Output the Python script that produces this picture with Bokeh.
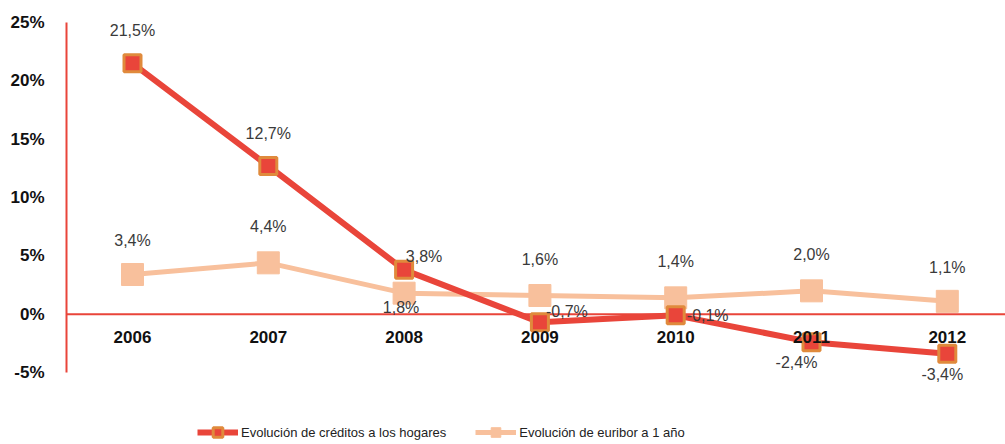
from bokeh.plotting import figure
from bokeh.models import (ColumnDataSource, Range1d, FixedTicker, Span, Legend, LegendItem)
from bokeh.core.properties import value
from bokeh.embed import file_html
from bokeh.resources import INLINE

# ---- data ----
years = ["2006", "2007", "2008", "2009", "2010", "2011", "2012"]
creditos = [21.5, 12.7, 3.8, -0.7, -0.1, -2.4, -3.4]
euribor = [3.4, 4.4, 1.8, 1.6, 1.4, 2.0, 1.1]
y_ticks = [-5, 0, 5, 10, 15, 20, 25]
y_tick_labels = ["-5%", "0%", "5%", "10%", "15%", "20%", "25%"]
serie_names = ["Evolución de créditos a los hogares", "Evolución de euribor a 1 año"]

# label placement (pixel offsets, style only)
cred_dx = [0, 0, 20, 27, 32, -15, -5]
cred_dy = [-33, -33, -13, -11, 0, 20, 21]
eur_dx = [0, 0, -3, 0, 0, 0, 0]
eur_dy = [-34, -36, 14, -36, -36, -36, -34]

FONT = "'Liberation Sans', Arial, sans-serif"
RED = "#e9453a"
ORANGE = "#e08a3c"
PEACH = "#f8c09c"

def fmt(v):
    return ("%.1f%%" % v).replace(".", ",")

xs = list(range(len(years)))
src_c = ColumnDataSource(dict(x=xs, y=creditos, lab=[fmt(v) for v in creditos],
                              dx=cred_dx, dy=cred_dy))
src_e = ColumnDataSource(dict(x=xs, y=euribor, lab=[fmt(v) for v in euribor],
                              dx=eur_dx, dy=eur_dy))
src_cat = ColumnDataSource(dict(x=xs, y=[0] * len(years), lab=years))

W = 1005
H = 444
LEFT = 66
TOP = 22
PX_PER_UNIT = 350 / 30.0
PX_PER_CAT = 135.8
y_lo = 25 - (H - TOP) / PX_PER_UNIT
x_lo = -LEFT / PX_PER_CAT
x_hi = x_lo + (W - LEFT) / PX_PER_CAT

p = figure(width=W, height=H, output_backend="svg", toolbar_location=None,
           x_range=Range1d(x_lo, x_hi), y_range=Range1d(y_lo, 25),
           min_border_left=LEFT, min_border_right=0, min_border_top=TOP,
           min_border_bottom=0)
p.outline_line_color = None
p.xgrid.visible = False
p.ygrid.visible = False
p.xaxis.visible = False
p.background_fill_color = "white"
p.border_fill_color = "white"

ya = p.yaxis[0]
ya.ticker = FixedTicker(ticks=y_ticks)
ya.bounds = (y_ticks[0], y_ticks[-1])
ya.major_label_overrides = {t: l for t, l in zip(y_ticks, y_tick_labels)}
ya.axis_line_color = RED
ya.axis_line_width = 2
ya.major_tick_line_color = None
ya.minor_tick_line_color = None
ya.major_tick_out = 0
ya.major_tick_in = 0
ya.major_label_standoff = 22
ya.major_label_text_font = FONT
ya.major_label_text_font_style = "bold"
ya.major_label_text_font_size = "17px"
ya.major_label_text_color = "#111111"

zero = Span(location=0, dimension="width", line_color=RED, line_width=2, level="underlay")
p.add_layout(zero)

# euribor series
le = p.line("x", "y", source=src_e, line_color=PEACH, line_width=5)
se = p.scatter("x", "y", source=src_e, marker="square", size=22,
               fill_color=PEACH, line_color=PEACH, line_width=1)
# credits series
lc = p.line("x", "y", source=src_c, line_color=RED, line_width=6)
sc = p.scatter("x", "y", source=src_c, marker="square", size=17,
               fill_color=RED, line_color=ORANGE, line_width=3)

# data labels
for src in (src_e, src_c):
    p.text("x", "y", text="lab", source=src, x_offset="dx", y_offset="dy",
           text_font=value(FONT), text_font_size="16px", text_color="#3a3a3a",
           text_align="center", text_baseline="middle")

# category labels
p.text("x", "y", text="lab", source=src_cat, y_offset=23,
       text_font=value(FONT), text_font_size="17px", text_font_style="bold",
       text_color="#111111", text_align="center", text_baseline="middle")

legend = Legend(items=[LegendItem(label=serie_names[0], renderers=[lc, sc]),
                       LegendItem(label=serie_names[1], renderers=[le, se])],
                orientation="horizontal", location=(131, 0),
                padding=0, margin=0, spacing=29, label_standoff=3,
                glyph_width=41, glyph_height=24, label_height=24,
                label_text_font=FONT, label_text_font_size="13px",
                label_text_color="#222222", border_line_color=None,
                background_fill_alpha=0)
p.add_layout(legend, "center")

open("out.html", "w").write(file_html(p, INLINE))
